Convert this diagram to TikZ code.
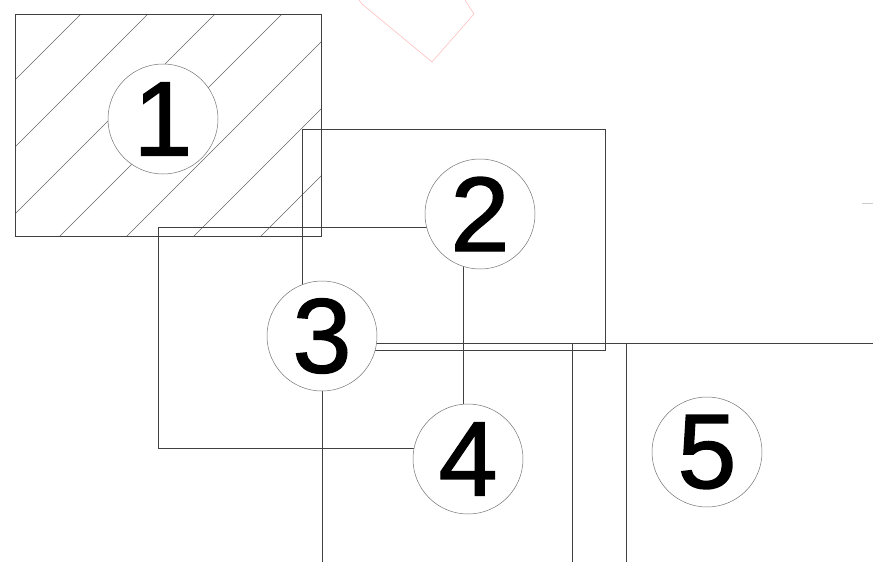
\documentclass[tikz,border=0pt]{standalone}
\usepackage{fontspec}
\setmainfont{Liberation Sans}
\newfontfamily\tagfont{Liberation Sans}[FakeBold=1.3]
\begin{document}
\begin{tikzpicture}[x=1pt,y=-1pt,
  wall/.style={draw=black!75,line width=0.6pt},
  hatchline/.style={draw=black!60,line width=0.45pt},
  tag/.style={circle,draw=black!55,line width=0.5pt,fill=white,minimum size=110pt,inner sep=0pt,
    font=\tagfont\fontsize{106}{106}\selectfont},
  faint/.style={draw=red!25,line width=0.6pt}]
\useasboundingbox (0,0) rectangle (873,562);
% hatching in room 1
\begin{scope}
  \clip (15,14) rectangle (321,236);
  \foreach \c in {95,162,229,296,363,430,497}
    \draw[hatchline] (\c-300,300) -- (\c+300,-300);
\end{scope}
% room outlines
\draw[wall] (15,14) rectangle (321,236);
\draw[wall] (302,129) rectangle (605,350);
\draw[wall] (158,227) rectangle (463,448);
\draw[wall] (322,562) -- (322,343) -- (873,343);
\draw[wall] (572,343) -- (572,562);
\draw[wall] (626,343) -- (626,562);
% faint marks
\draw[faint] (359,0) -- (362,4) -- (432,62) -- (474,14) -- (465,0);
\draw[draw=black!20,line width=0.6pt] (862,203) -- (873,203);
% room tags
\node[tag] (t1) at (163,119) {1};
\node[tag] (t2) at (480,214) {2};
\node[tag] (t3) at (322,336) {3};
\node[tag] (t4) at (468,459) {4};
\node[tag] (t5) at (707,452) {5};
\end{tikzpicture}
\end{document}
